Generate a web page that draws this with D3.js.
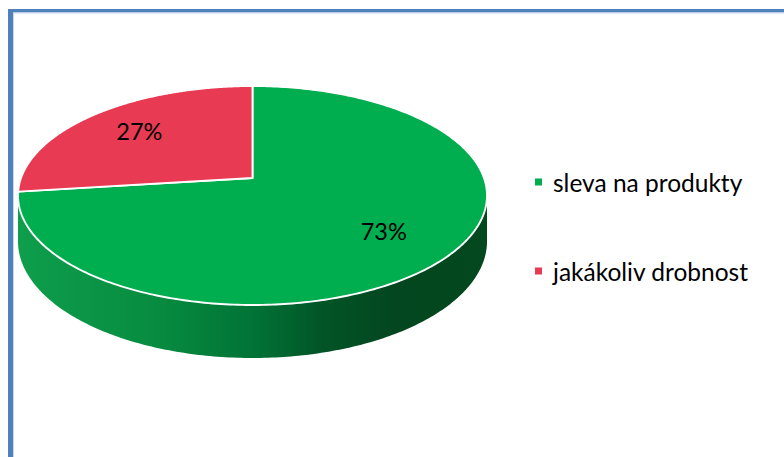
<!DOCTYPE html>
<html><head><meta charset="utf-8">
<script src="https://cdn.jsdelivr.net/npm/d3@7"></script>
<style>html,body{margin:0;padding:0;background:#fff;overflow:hidden}</style>
</head><body>
<svg id="chart" width="784" height="457"></svg>
<script>
const categories = ["sleva na produkty", "jakákoliv drobnost"];
const values = [73, 27];
const labels = ["73%", "27%"];
const colors = ["#00ad4f", "#e83a53"];

const svg = d3.select("#chart");
const W = 784, H = 457;

// frame
svg.append("rect").attr("x", 8).attr("y", 9).attr("width", W).attr("height", 3.5).attr("fill", "#4f81bd");
svg.append("rect").attr("x", 8).attr("y", 9).attr("width", 5).attr("height", H).attr("fill", "#4f81bd");
svg.append("line").attr("x1", 13.5).attr("x2", W).attr("y1", 13).attr("y2", 13).attr("stroke", "#c9d8ec").attr("stroke-width", 1);
svg.append("line").attr("x1", 13.5).attr("x2", 13.5).attr("y1", 13).attr("y2", H).attr("stroke", "#c9d8ec").attr("stroke-width", 1);

// 3D pie geometry (perspective projection)
const cx = 252.5, cy = 178, R = 231.5, Ry = 106.7, k = 0.16, D = 44.5;
function proj(a, r, h) {
  const u = Math.sin(a) * r, v = Math.cos(a) * r;
  const f = 1 / (1 + k * v);
  return [cx + R * u * f, cy - Ry * v * f + h * D * f];
}

const pie = d3.pie().sort(null).value(d => d).startAngle(0).endAngle(2 * Math.PI);
const arcs = pie(values);

const defs = svg.append("defs");
const grad = defs.append("linearGradient").attr("id", "sideGrad")
  .attr("gradientUnits", "userSpaceOnUse").attr("x1", 18).attr("x2", 487).attr("y1", 0).attr("y2", 0);
[[0, "#0e9e4c"], [0.3, "#078b40"], [0.5, "#017336"], [0.65, "#025427"], [0.8, "#03461f"], [1, "#03481f"]]
  .forEach(([o, c]) => grad.append("stop").attr("offset", o).attr("stop-color", c));

const sL = Math.acos(-k), sR = 2 * Math.PI - Math.acos(-k);
function arcPts(a0, a1, r, h, n) {
  const pts = [];
  for (let i = 0; i <= n; i++) pts.push(proj(a0 + (a1 - a0) * i / n, r, h));
  return pts;
}
arcs.forEach((d, i) => {
  const a0 = Math.max(d.startAngle, sL), a1 = Math.min(d.endAngle, sR);
  if (a1 <= a0) return;
  const top = arcPts(a0, a1, 1, 0, 200);
  const bot = arcPts(a1, a0, 1, 1, 200);
  svg.append("path").attr("d", d3.line()(top.concat(bot)) + "Z")
    .attr("fill", i === 0 ? "url(#sideGrad)" : d3.color(colors[i]).darker(1.2));
});

arcs.forEach((d, i) => {
  const pts = [proj(0, 0, 0)].concat(arcPts(d.startAngle, d.endAngle, 1, 0, 300));
  svg.append("path").attr("d", d3.line()(pts) + "Z")
    .attr("fill", colors[i]).attr("stroke", "#fff").attr("stroke-width", 1.9).attr("stroke-linejoin", "round");
});

arcs.forEach((d, i) => {
  const p = proj((d.startAngle + d.endAngle) / 2, 0.7, 0);
  svg.append("text").attr("x", p[0]).attr("y", p[1]).attr("dy", "0.35em")
    .attr("text-anchor", "middle").attr("font-family", "Lato, 'Noto Sans', sans-serif")
    .attr("font-size", 23.5).attr("fill", "#000").text(labels[i]);
});

const ly = d3.scalePoint().domain(categories).range([183, 272]);
const leg = svg.append("g");
categories.forEach((c, i) => {
  leg.append("rect").attr("x", 535).attr("y", ly(c) - 4.5).attr("width", 7).attr("height", 7).attr("fill", colors[i]);
  leg.append("text").attr("x", 553).attr("y", ly(c)).attr("dy", "0.35em")
    .attr("font-family", "Lato, 'Noto Sans', sans-serif").attr("font-size", 24.5).attr("fill", "#000").text(c);
});
</script>
</body></html>
